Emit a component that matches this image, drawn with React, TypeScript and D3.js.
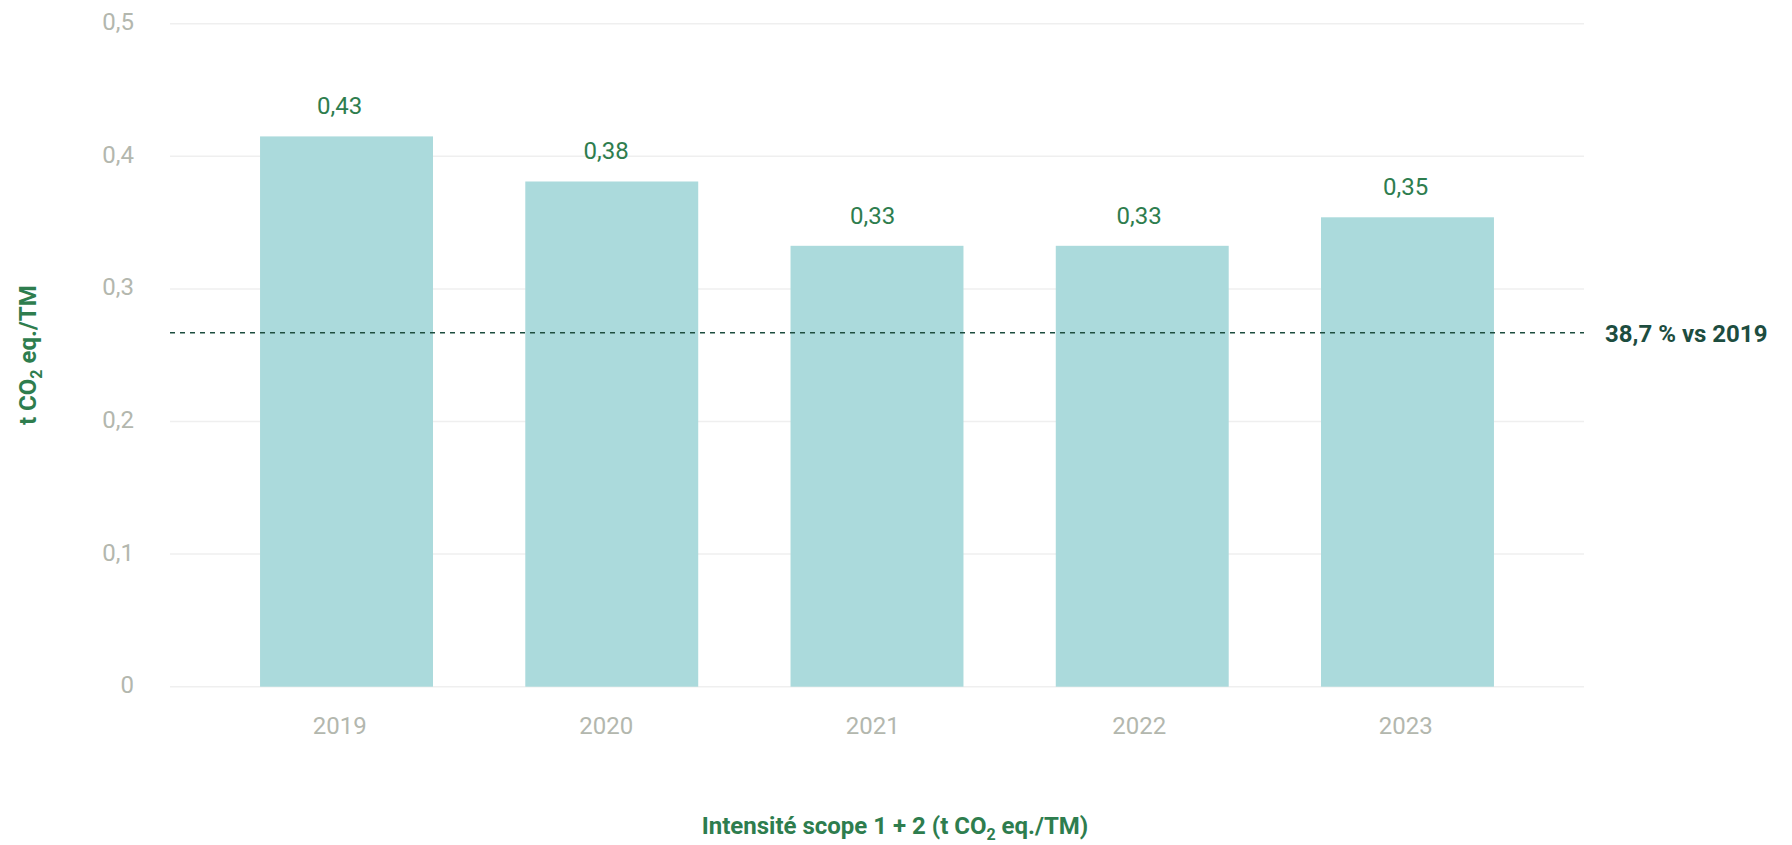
import React from "react";
import * as d3 from "d3";

const categories: string[] = ["2019", "2020", "2021", "2022", "2023"];
const barValues: number[] = [0.415, 0.381, 0.3325, 0.3325, 0.354];
const valueLabels: string[] = ["0,43", "0,38", "0,33", "0,33", "0,35"];
const yTicks: number[] = [0, 0.1, 0.2, 0.3, 0.4, 0.5];
const yTickLabels: string[] = ["0", "0,1", "0,2", "0,3", "0,4", "0,5"];
const targetValue: number = 0.267;
const targetLabel: string = "38,7 % vs 2019";

const W = 1792;
const H = 845;
const left = 170;
const right = 1584;
const top = 23.7;
const bottom = 686.7;

const FONT = "Roboto, 'Noto Sans', sans-serif";
const GREEN = "#2e7d4e";
const DARK = "#1d4d3f";
const GRAY = "#b3b7ae";

export default function App() {
  const x = d3
    .scaleBand<string>()
    .domain(categories)
    .range([left, right])
    .paddingInner(0.348)
    .paddingOuter(0.3395);
  const xLabel = d3.scalePoint<string>().domain(categories).range([339.7, 1405.7]);
  const y = d3.scaleLinear().domain([0, 0.5]).range([bottom, top]);

  return (
    <svg
      width={W}
      height={H}
      style={{ position: "absolute", left: 0, top: 0, background: "#fff" }}
      fontFamily={FONT}
    >
      {yTicks.map((t, i) => (
        <g key={"t" + i}>
          <line x1={left} x2={right} y1={y(t)} y2={y(t)} stroke="#efefef" strokeWidth={1.5} />
          <text x={134} y={y(t) + 6.5} textAnchor="end" fontSize={24} fill={GRAY}>
            {yTickLabels[i]}
          </text>
        </g>
      ))}
      {categories.map((c, i) => (
        <g key={c}>
          <rect
            x={x(c)}
            y={y(barValues[i])}
            width={x.bandwidth()}
            height={y(0) - y(barValues[i])}
            fill="#abdadc"
          />
          <text
            x={xLabel(c)}
            y={y(barValues[i]) - 22}
            textAnchor="middle"
            fontSize={24}
            fill={GREEN}
          >
            {valueLabels[i]}
          </text>
          <text x={xLabel(c)} y={734} textAnchor="middle" fontSize={24} fill={GRAY}>
            {c}
          </text>
        </g>
      ))}
      <line
        x1={left}
        x2={right}
        y1={y(targetValue)}
        y2={y(targetValue)}
        stroke={DARK}
        strokeWidth={1.5}
        strokeDasharray="5,5"
      />
      <text x={1605} y={y(targetValue) + 9} fontSize={24} fontWeight="bold" fill={DARK}>
        {targetLabel}
      </text>
      <text
        transform={`translate(36, ${(top + bottom) / 2}) rotate(-90)`}
        textAnchor="middle"
        fontSize={24}
        fontWeight="bold"
        fill={GREEN}
      >
        t CO<tspan fontSize={16} dy={6}>2</tspan>
        <tspan dy={-6}> eq./TM</tspan>
      </text>
      <text x={895} y={834} textAnchor="middle" fontSize={24} fontWeight="bold" fill={GREEN}>
        Intensité scope 1 + 2 (t CO<tspan fontSize={16} dy={6}>2</tspan>
        <tspan dy={-6}> eq./TM)</tspan>
      </text>
    </svg>
  );
}
